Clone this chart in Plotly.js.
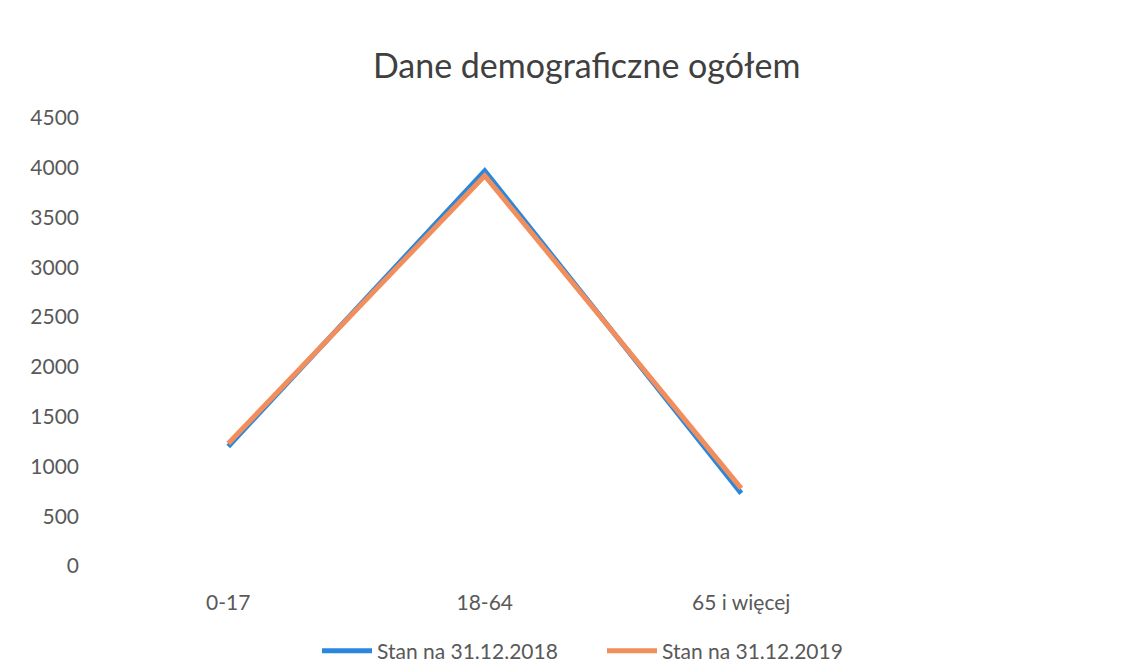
<!DOCTYPE html>
<html>
<head>
<meta charset="utf-8">
<script src="https://cdn.plot.ly/plotly-3.0.1.min.js"></script>
<style>html,body{margin:0;padding:0;background:#fff;}#chart{width:1148px;height:663px;}</style>
</head>
<body>
<div id="chart"></div>
<script>
const categories = ["0-17", "18-64", "65 i więcej"];
const series2018 = [1200, 3970, 730];
const series2019 = [1230, 3920, 780];
const seriesNames = ["Stan na 31.12.2018", "Stan na 31.12.2019"];
const yTicks = [0, 500, 1000, 1500, 2000, 2500, 3000, 3500, 4000, 4500];

const font = "Lato, 'Open Sans', sans-serif";
const traces = [
  {x: categories, y: series2018, name: seriesNames[0], type: "scatter", mode: "lines",
   line: {color: "#2B87DC", width: 5}},
  {x: categories, y: series2019, name: seriesNames[1], type: "scatter", mode: "lines",
   line: {color: "#F28E5C", width: 5}}
];
const layout = {
  width: 1148, height: 663,
  margin: {l: 100, r: 22, t: 118, b: 97, autoexpand: false},
  paper_bgcolor: "#fff", plot_bgcolor: "#fff",
  font: {family: font, color: "#595959", size: 21},
  title: {text: "Dane demograficzne ogółem", font: {family: font, size: 34, color: "#404040"},
          x: 0.511, xanchor: "center", y: 0.9, yanchor: "middle"},
  xaxis: {type: "category", range: [-0.5, 3.5], showgrid: false, zeroline: false, showline: false,
          automargin: false, ticks: "", ticklabelstandoff: 22, tickfont: {size: 21, color: "#595959"}},
  yaxis: {range: [0, 4500], tickvals: yTicks, showgrid: false, zeroline: false, showline: false,
          automargin: false, ticks: "", ticklabelstandoff: 20, tickfont: {size: 21, color: "#595959"}},
  showlegend: true,
  legend: {orientation: "h", x: 0.2115, xanchor: "left", y: -0.19, yanchor: "middle",
           font: {size: 21, color: "#595959"}, itemwidth: 50, entrywidth: 220, traceorder: "normal"}
};
Plotly.newPlot("chart", traces, layout, {displayModeBar: false, staticPlot: true});
</script>
</body>
</html>
